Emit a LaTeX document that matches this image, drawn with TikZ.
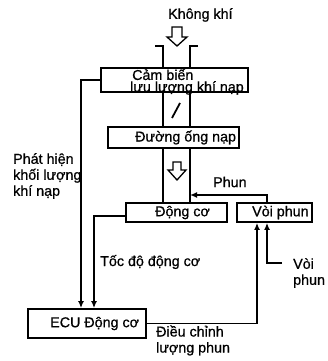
\documentclass[tikz,border=0pt]{standalone}
\usepackage{fontspec}
\XeTeXinputnormalization=1
\setmainfont{Liberation Sans}[FakeBold=0.8]
\usetikzlibrary{arrows.meta}
\begin{document}
\begin{tikzpicture}[x=1pt,y=-1pt,
  box/.style={draw, line width=1.8pt, inner sep=0pt},
  lbl/.style={font=\fontsize{14.3}{16}\selectfont, inner sep=0pt, anchor=west},
  mlbl/.style={lbl, align=left},
  conn/.style={line width=1.8pt},
  arr/.style={conn, -{Latex[length=7pt,width=6pt]}},
  hollow/.style={draw, line width=1.3pt, fill=white, line join=miter}]
\useasboundingbox (0,0) rectangle (327,361);
% boxes
\node[box, minimum width=147pt, minimum height=24pt] (sensor) at (174.5,80) {};
\node[box, minimum width=131pt, minimum height=21pt] (manifold) at (173.5,137.5) {};
\node[box, minimum width=101pt, minimum height=19pt] (engine) at (176.5,212.5) {};
\node[box, minimum width=75pt, minimum height=19pt] (injector) at (274.5,212.5) {};
\node[box, minimum width=118pt, minimum height=29pt] (ecu) at (87,323.5) {};
% texts
\node[lbl] (air) at (168,15) {Không khí};
\node[lbl] (sensortxt1) at (132,74.5) {Cảm biến};
\node[lbl] (sensortxt2) at (130,88) {lưu lượng khí nạp};
\node[lbl] (maniftxt) at (135,137.5) {Đường ống nạp};
\node[lbl] (enginetxt) at (155,212.5) {Động cơ};
\node[lbl] (injtxt) at (252,212.5) {Vòi phun};
\node[lbl] (ecutxt) at (50,323.5) {ECU Động cơ};
\node[lbl] (phun) at (213,182) {Phun};
\node[lbl] (speed) at (100,262) {Tốc độ động cơ};
\node[mlbl] (detect) at (13,176) {Phát hiện\\khối lượng\\khí nạp};
\node[mlbl] (inj2) at (293,273) {Vòi\\phun};
\node[mlbl] (adjust) at (156,340.5) {Điều chỉnh\\lượng phun};
% coordinates
\coordinate (dl) at (163,0);
\coordinate (dr) at (190,0);
\coordinate (vl) at (81,0);
\coordinate (vm) at (94,0);
\coordinate (ia) at (257,0);
\coordinate (ib) at (267,0);
\coordinate (pj) at (190,195);
\coordinate (vp) at (282,263);
\coordinate (fl) at (155,46);
\coordinate (fr) at (198,46);
% intake duct
\draw[conn] (fl) -- (fl -| dl) -- (sensor.north -| dl);
\draw[conn] (fr) -- (fr -| dr) -- (sensor.north -| dr);
\draw[conn] (sensor.south -| dl) -- (manifold.north -| dl);
\draw[conn] (sensor.south -| dr) -- (manifold.north -| dr);
\draw[conn] (manifold.south -| dl) -- (engine.north -| dl);
\draw[conn] (manifold.south -| dr) -- (engine.north -| dr);
% throttle valve
\draw[conn] (172,118) -- (180,103);
% hollow arrows
\draw[hollow] (172,27) -- (182,27) -- (182,37) -- (187,37) -- (177,46) -- (167,37) -- (172,37) -- cycle;
\draw[hollow] (173,162) -- (181,162) -- (181,170) -- (186,170) -- (177,180) -- (168,170) -- (173,170) -- cycle;
% connectors
\draw[arr] (sensor.west) -| (ecu.north -| vl);
\draw[arr] ([yshift=-3.5pt]engine.west) -| (ecu.north -| vm);
\draw[arr] (injector.north -| ib) |- (pj);
\draw[arr] (ecu.east) -| (injector.south -| ia);
\draw[arr] (vp) -| (injector.south -| ib);
\end{tikzpicture}
\end{document}
